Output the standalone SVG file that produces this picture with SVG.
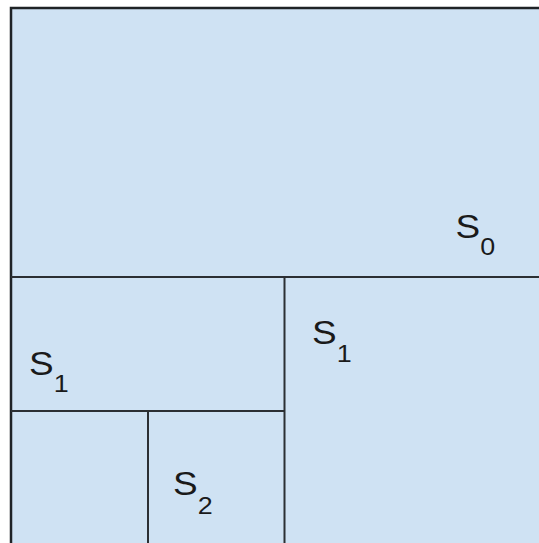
<svg xmlns="http://www.w3.org/2000/svg" width="539" height="543" viewBox="0 0 539 543">
<style>
.ln{stroke:#2b2f33;stroke-width:2;fill:none}
.t{font-family:"Liberation Sans",Arial,sans-serif;font-size:33px;fill:#1a1a1a}
.s{font-size:24px}
</style>
<rect width="539" height="543" fill="#ffffff"/>
<g id="S0">
<rect x="11" y="8" width="540" height="545" fill="#cfe2f3" stroke="#1f2326" stroke-width="2.5"/>
<text class="t" transform="translate(455.6,238) scale(1.12,1)">S<tspan class="s" dy="17">0</tspan></text>
</g>
<g id="connectors">
<line class="ln" x1="11" y1="277" x2="539" y2="277"/>
<line class="ln" x1="284.5" y1="277" x2="284.5" y2="543"/>
<line class="ln" x1="11" y1="411" x2="284.5" y2="411"/>
<line class="ln" x1="148" y1="411" x2="148" y2="543"/>
</g>
<g id="S1a">
<text class="t" transform="translate(312,344) scale(1.12,1)">S<tspan class="s" dy="18">1</tspan></text>
</g>
<g id="S1b">
<text class="t" transform="translate(29,375) scale(1.12,1)">S<tspan class="s" dy="17">1</tspan></text>
</g>
<g id="S2">
<text class="t" transform="translate(173,495) scale(1.12,1)">S<tspan class="s" dy="18.5">2</tspan></text>
</g>
</svg>
